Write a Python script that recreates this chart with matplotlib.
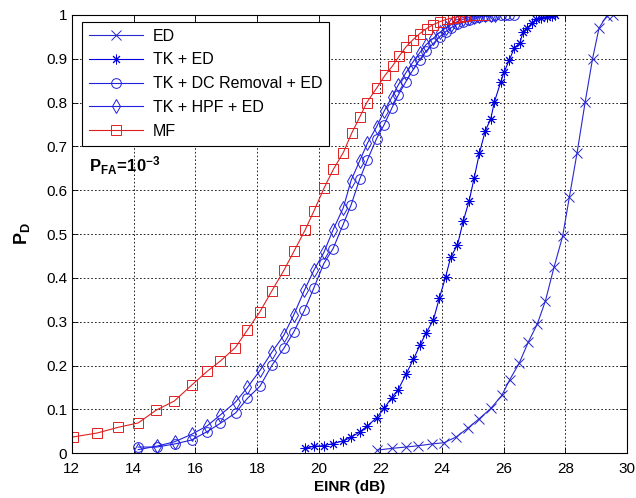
"""Detection probability vs EINR for the ED / TK / MF detectors."""

import matplotlib
matplotlib.use("Agg")
import matplotlib.pyplot as plt

plt.rcParams["font.family"] = ["Liberation Sans", "DejaVu Sans"]
plt.rcParams["mathtext.fontset"] = "custom"
plt.rcParams["mathtext.rm"] = "Liberation Sans"
plt.rcParams["mathtext.bf"] = "Liberation Sans:bold"

# values (EINR in dB, P_D)
ed_x = [21.90, 22.37, 22.83, 23.23, 23.67, 24.07, 24.46, 24.85, 25.21, 25.58,
        25.94, 26.19, 26.50, 26.80, 27.09, 27.35, 27.63, 27.91, 28.13, 28.38,
        28.64, 28.88, 29.09, 29.34, 29.54]
ed_pd = [0.007, 0.011, 0.014, 0.017, 0.021, 0.024, 0.037, 0.058, 0.079, 0.102,
         0.132, 0.167, 0.205, 0.254, 0.295, 0.347, 0.424, 0.495, 0.585, 0.686,
         0.801, 0.900, 0.970, 0.998, 1.0]

tk_x = [19.56, 19.85, 20.17, 20.47, 20.80, 21.04, 21.34, 21.58, 21.88, 22.12,
        22.37, 22.58, 22.83, 23.07, 23.29, 23.48, 23.72, 23.91, 24.12, 24.28,
        24.50, 24.69, 24.88, 25.04, 25.21, 25.40, 25.58, 25.70, 25.90, 26.01,
        26.18, 26.34, 26.53, 26.63, 26.77, 26.91, 27.05, 27.21, 27.40, 27.56,
        27.67]
tk_pd = [0.011, 0.016, 0.017, 0.022, 0.028, 0.036, 0.049, 0.062, 0.081, 0.102,
         0.127, 0.145, 0.180, 0.214, 0.247, 0.274, 0.304, 0.353, 0.403, 0.447,
         0.475, 0.530, 0.576, 0.627, 0.684, 0.735, 0.763, 0.802, 0.846, 0.869,
         0.897, 0.924, 0.937, 0.962, 0.971, 0.981, 0.991, 0.994, 0.996, 0.998,
         0.999]

dc_x = [14.15, 14.75, 15.33, 15.88, 16.38, 16.81, 17.31, 17.69, 18.10, 18.49,
        18.87, 19.19, 19.54, 19.85, 20.17, 20.47, 20.80, 21.05, 21.33, 21.58,
        21.88, 22.12, 22.37, 22.58, 22.83, 23.06, 23.28, 23.48, 23.72, 23.92,
        24.12, 24.30, 24.50, 24.69, 24.88, 25.04, 25.21, 25.40, 25.58, 25.72,
        25.90, 26.03, 26.18, 26.34]
dc_pd = [0.014, 0.014, 0.021, 0.030, 0.049, 0.068, 0.092, 0.125, 0.153, 0.201,
         0.239, 0.276, 0.326, 0.378, 0.433, 0.467, 0.523, 0.566, 0.625, 0.669,
         0.718, 0.749, 0.787, 0.817, 0.848, 0.875, 0.898, 0.917, 0.935, 0.950,
         0.962, 0.971, 0.979, 0.985, 0.989, 0.992, 0.995, 0.997, 0.998, 0.999,
         1.0, 1.0, 1.0, 1.0]

hpf_x = [14.15, 14.75, 15.33, 15.88, 16.38, 16.81, 17.31, 17.69, 18.10, 18.49,
         18.87, 19.19, 19.54, 19.85, 20.17, 20.47, 20.80, 21.05, 21.33, 21.58,
         21.88, 22.12, 22.37, 22.58, 22.83, 23.06, 23.28, 23.48, 23.72, 23.92,
         24.12, 24.30, 24.50, 24.69, 24.88, 25.04, 25.21, 25.40, 25.58, 25.72]
hpf_pd = [0.008, 0.016, 0.026, 0.043, 0.062, 0.087, 0.117, 0.150, 0.189, 0.231,
          0.269, 0.315, 0.372, 0.418, 0.458, 0.510, 0.560, 0.622, 0.667, 0.707,
          0.745, 0.780, 0.812, 0.840, 0.868, 0.893, 0.914, 0.932, 0.947, 0.960,
          0.970, 0.978, 0.985, 0.990, 0.994, 0.996, 0.998, 0.999, 1.0, 1.0]

mf_x = [12.04, 12.82, 13.50, 14.15, 14.73, 15.32, 15.88, 16.39, 16.81, 17.30,
        17.69, 18.10, 18.48, 18.88, 19.21, 19.56, 19.85, 20.17, 20.48, 20.80,
        21.07, 21.34, 21.56, 21.88, 22.15, 22.40, 22.62, 22.83, 23.05, 23.27,
        23.50, 23.72, 23.94, 24.15, 24.36, 24.56, 24.76, 24.96, 25.16, 25.36]
mf_pd = [0.037, 0.046, 0.059, 0.069, 0.098, 0.119, 0.155, 0.187, 0.210, 0.241,
         0.281, 0.323, 0.370, 0.418, 0.462, 0.509, 0.553, 0.604, 0.648, 0.686,
         0.730, 0.768, 0.800, 0.833, 0.862, 0.884, 0.907, 0.927, 0.943, 0.957,
         0.969, 0.978, 0.985, 0.990, 0.994, 0.996, 0.998, 0.999, 1.0, 1.0]

x_ticks = list(range(12, 31, 2))
y_ticks = [i / 10 for i in range(11)]


def main() -> None:
    fig = plt.figure(figsize=(6.36, 4.98), dpi=100)
    ax = fig.add_axes([0.113, 0.090, 0.873, 0.880])

    common = dict(linewidth=0.8, markersize=7, markeredgewidth=0.7,
                  markerfacecolor="none")
    ax.plot(ed_x, ed_pd, color="#2828d0", marker="x", label="ED", **common)
    # matlab-style asterisk: eight spokes
    ax.plot(tk_x, tk_pd, color="#0000e0", marker=(8, 2, 0), label="TK + ED",
            **common)
    ax.plot(dc_x, dc_pd, color="#2020e0", marker="o",
            label="TK + DC Removal + ED", **common)
    ax.plot(hpf_x, hpf_pd, color="#2020e0", marker="d",
            label="TK + HPF + ED", **common)
    ax.plot(mf_x, mf_pd, color="#e02020", marker="s", label="MF", **common)

    ax.set_xlim(12, 30)
    ax.set_ylim(0, 1)
    ax.set_xticks(x_ticks)
    ax.set_yticks(y_ticks)
    ax.set_yticklabels(["0"] + [f"{v:g}" for v in y_ticks[1:-1]] + ["1"])
    ax.tick_params(direction="in", top=True, right=True, labelsize=11,
                   length=4, width=0.6)
    ax.tick_params(axis="x", pad=6)
    ax.grid(True, color="black", linestyle=(0, (2, 2.5)), linewidth=0.6)
    for spine in ax.spines.values():
        spine.set_linewidth(0.8)

    ax.set_xlabel("EINR (dB)", fontsize=11, fontweight="bold", labelpad=3)
    ax.set_ylabel(r"$\mathbf{P_D}$", fontsize=13, labelpad=10)
    ax.text(12.55, 0.655, r"$\mathbf{P_{FA}\!=\!10^{-3}}$", fontsize=12,
            va="center", ha="left")

    leg = ax.legend(loc="upper left", bbox_to_anchor=(0.0175, 0.985),
                    fontsize=11.5, handlelength=3.4, labelspacing=0.55,
                    borderaxespad=0, fancybox=False, framealpha=1,
                    edgecolor="black", borderpad=0.45, handletextpad=0.6)
    leg.get_frame().set_linewidth(0.8)

    fig.savefig("out.png", dpi=100)
    plt.close(fig)


if __name__ == "__main__":
    main()
